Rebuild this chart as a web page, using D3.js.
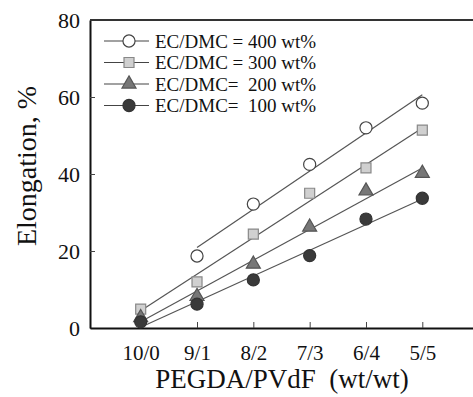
<!DOCTYPE html>
<html>
<head>
<meta charset="utf-8">
<script src="https://cdn.jsdelivr.net/npm/d3@7"></script>
<style>
body { margin: 0; background: #fff; }
</style>
</head>
<body>
<div id="chart"></div>
<script>
var width = 473;
var height = 397;
var margin = {top: 20, right: 0, bottom: 69, left: 90};
var serif = "'Liberation Serif', 'Times New Roman', Times, serif";

// compositions PEGDA/PVdF
var categories = ["10/0", "9/1", "8/2", "7/3", "6/4", "5/5"];
var yTicks = [0, 20, 40, 60, 80];

// elongation (%) per EC/DMC ratio, null where no point
var ec400 = [null, 18.7, 32.2, 42.5, 52.0, 58.4];
var ec300 = [4.9, 12.0, 24.4, 35.0, 41.6, 51.4];
var ec200 = [2.7, 8.2, 16.6, 26.2, 35.6, 40.2];
var ec100 = [1.6, 6.2, 12.5, 18.8, 28.3, 33.7];

var seriesNames = ["EC/DMC = 400 wt%", "EC/DMC = 300 wt%", "EC/DMC=  200 wt%", "EC/DMC=  100 wt%"];

var series = [
    {name: seriesNames[0], values: ec400, shape: "circle", fill: "#fff", stroke: "#444"},
    {name: seriesNames[1], values: ec300, shape: "square", fill: "#d0d0d0", stroke: "#888"},
    {name: seriesNames[2], values: ec200, shape: "triangle", fill: "#777", stroke: "#555"},
    {name: seriesNames[3], values: ec100, shape: "circle", fill: "#3a3a3a", stroke: "#333"}
];

var w = width - margin.left - margin.right;
var h = height - margin.top - margin.bottom;

var svg = d3.select("#chart")
    .append("svg")
    .attr("width", width)
    .attr("height", height)
    .attr("font-family", serif);

var g = svg.append("g")
    .attr("transform", "translate(" + margin.left + "," + margin.top + ")");

var xScale = d3.scalePoint().domain(categories).range([0, w]).padding(0.9);
var yScale = d3.scaleLinear().domain([0, 80]).range([h, 0]);

var symbolFor = {
    circle: d3.symbol().type(d3.symbolCircle).size(115),
    square: d3.symbol().type(d3.symbolSquare).size(100),
    triangle: d3.symbol().type(d3.symbolTriangle).size(85)
};

// axes, ticks point inward
var yAxis = d3.axisLeft(yScale).tickValues(yTicks).tickSizeInner(-5).tickSizeOuter(0).tickPadding(10);
var xAxis = d3.axisBottom(xScale).tickSizeInner(-6).tickSizeOuter(0).tickPadding(17);

var gy = g.append("g").attr("class", "y axis").call(yAxis);
var gx = g.append("g").attr("class", "x axis")
    .attr("transform", "translate(0," + h + ")")
    .call(xAxis);

gy.attr("font-family", serif).attr("font-size", 22);
gy.selectAll("text").attr("font-family", serif).attr("font-size", 22).attr("fill", "#111").attr("dy", "0.34em");
gx.attr("font-family", serif).attr("font-size", 21);
gx.selectAll("text").attr("font-family", serif).attr("font-size", 21).attr("fill", "#111");

g.selectAll(".axis path").attr("stroke", "#111").attr("stroke-width", 2);
g.selectAll(".axis line").attr("stroke", "#444").attr("stroke-width", 1);

// top frame line
g.append("line")
    .attr("x1", 0).attr("x2", w)
    .attr("y1", 0).attr("y2", 0)
    .attr("stroke", "#333").attr("stroke-width", 2);

// least squares line through each series
function fitLine(values) {
    var pts = [];
    values.forEach(function (v, i) {
        if (v != null) pts.push([i, v]);
    });
    var mx = d3.mean(pts, function (p) { return p[0]; });
    var my = d3.mean(pts, function (p) { return p[1]; });
    var num = d3.sum(pts, function (p) { return (p[0] - mx) * (p[1] - my); });
    var den = d3.sum(pts, function (p) { return (p[0] - mx) * (p[0] - mx); });
    var slope = num / den;
    var i0 = pts[0][0], i1 = pts[pts.length - 1][0];
    return [[i0, my + slope * (i0 - mx)], [i1, my + slope * (i1 - mx)]];
}

var lines = g.append("g");
series.forEach(function (s) {
    var f = fitLine(s.values);
    lines.append("line")
        .attr("x1", xScale(categories[f[0][0]]))
        .attr("y1", yScale(f[0][1]))
        .attr("x2", xScale(categories[f[1][0]]))
        .attr("y2", yScale(f[1][1]))
        .attr("stroke", "#555")
        .attr("stroke-width", 1.2);
});

// markers
var marks = g.append("g");
series.forEach(function (s) {
    marks.append("g")
        .selectAll("path")
        .data(s.values.map(function (v, i) { return {cat: categories[i], v: v}; })
            .filter(function (d) { return d.v != null; }))
        .enter()
        .append("path")
        .attr("d", symbolFor[s.shape])
        .attr("transform", function (d) {
            return "translate(" + xScale(d.cat) + "," + yScale(d.v) + ")";
        })
        .attr("fill", s.fill)
        .attr("stroke", s.stroke)
        .attr("stroke-width", 1.2);
});

// legend
var legend = svg.append("g").attr("transform", "translate(104, 41)");
series.forEach(function (s, i) {
    var row = legend.append("g").attr("transform", "translate(0," + (i * 21.5) + ")");
    row.append("line")
        .attr("x1", 0).attr("x2", 45)
        .attr("y1", 0).attr("y2", 0)
        .attr("stroke", "#444").attr("stroke-width", 1.2);
    row.append("path")
        .attr("d", symbolFor[s.shape])
        .attr("transform", "translate(25,0)")
        .attr("fill", s.fill)
        .attr("stroke", s.stroke)
        .attr("stroke-width", 1.2);
    row.append("text")
        .attr("x", 51)
        .attr("y", 0)
        .attr("dy", "0.35em")
        .attr("font-family", serif)
        .attr("font-size", 19)
        .attr("fill", "#111")
        .style("white-space", "pre")
        .text(s.name);
});

// axis titles
svg.append("text")
    .attr("x", 282)
    .attr("y", 388)
    .attr("text-anchor", "middle")
    .attr("font-family", serif)
    .attr("font-size", 27)
    .attr("fill", "#111")
    .style("white-space", "pre")
    .text("PEGDA/PVdF  (wt/wt)");

svg.append("text")
    .attr("transform", "translate(36,166) rotate(-90)")
    .attr("text-anchor", "middle")
    .attr("font-family", serif)
    .attr("font-size", 28)
    .attr("fill", "#111")
    .text("Elongation, %");
</script>
</body>
</html>
